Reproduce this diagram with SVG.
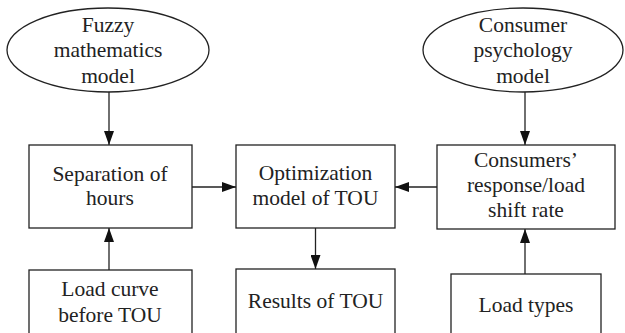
<svg xmlns="http://www.w3.org/2000/svg" width="625" height="333" viewBox="0 0 625 333">
<style>
.s{fill:#fff;stroke:#222;stroke-width:1.3}
.c{stroke:#222;stroke-width:1.3;fill:none;marker-end:url(#ah)}
</style>
<defs>
<marker id="ah" viewBox="0 0 14 10" refX="14" refY="5" markerWidth="14" markerHeight="10" markerUnits="userSpaceOnUse" orient="auto">
<path d="M0,0 L14,5 L0,10 Z" fill="#111"/>
</marker>
</defs>
<rect width="625" height="333" fill="#fff"/>
<g id="connectors">
<line class="c" x1="109" y1="92" x2="109" y2="145"/>
<line class="c" x1="109" y1="270" x2="109" y2="228"/>
<line class="c" x1="192" y1="187" x2="236" y2="187"/>
<line class="c" x1="437" y1="187" x2="395" y2="187"/>
<line class="c" x1="315.5" y1="228" x2="315.5" y2="269"/>
<line class="c" x1="525" y1="92" x2="525" y2="145"/>
<line class="c" x1="525" y1="274" x2="525" y2="229"/>
</g>
<g font-family="Liberation Serif, DejaVu Serif, serif" font-size="21.5" fill="#222" text-anchor="middle">
<g id="fuzzy">
<ellipse class="s" cx="108" cy="50" rx="101" ry="42"/>
<text x="108" y="32">Fuzzy</text>
<text x="108" y="57">mathematics</text>
<text x="108" y="83">model</text>
</g>
<g id="consumer">
<ellipse class="s" cx="523" cy="50" rx="100" ry="42"/>
<text x="523" y="32">Consumer</text>
<text x="523" y="57">psychology</text>
<text x="523" y="83">model</text>
</g>
<g id="separation">
<rect class="s" x="29" y="145" width="163" height="83"/>
<text x="110" y="181">Separation of</text>
<text x="110" y="205">hours</text>
</g>
<g id="optimization">
<rect class="s" x="236" y="145" width="159" height="83"/>
<text x="315.5" y="180">Optimization</text>
<text x="315.5" y="205">model of TOU</text>
</g>
<g id="response">
<rect class="s" x="437" y="145" width="178" height="84"/>
<text x="526" y="167">Consumers’</text>
<text x="526" y="192">response/load</text>
<text x="526" y="217">shift rate</text>
</g>
<g id="loadcurve">
<rect class="s" x="29" y="270" width="163" height="70"/>
<text x="110" y="296">Load curve</text>
<text x="110" y="322">before TOU</text>
</g>
<g id="results">
<rect class="s" x="236" y="269" width="159" height="70"/>
<text x="315.5" y="308">Results of TOU</text>
</g>
<g id="loadtypes">
<rect class="s" x="451" y="274" width="150" height="66"/>
<text x="526" y="312">Load types</text>
</g>
</g>
</svg>
